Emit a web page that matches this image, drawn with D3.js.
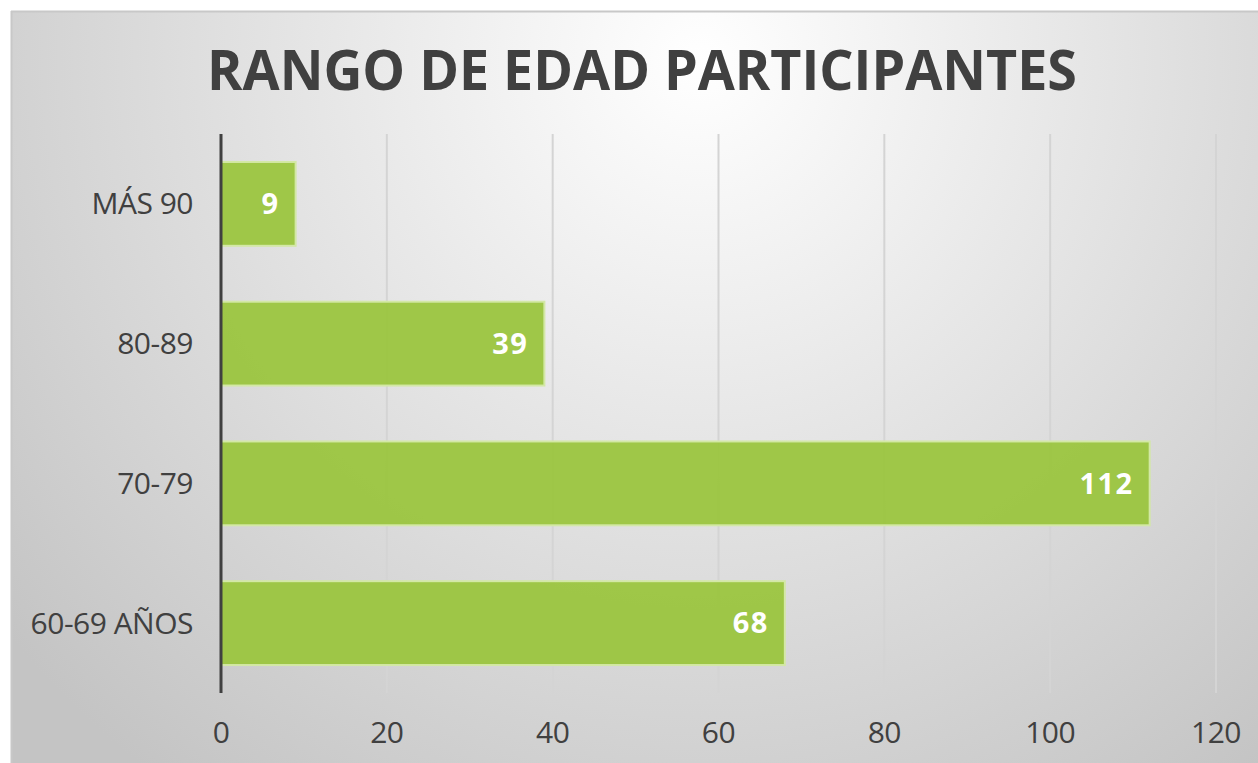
<!DOCTYPE html>
<html>
<head>
<meta charset="utf-8">
<script src="https://cdn.jsdelivr.net/npm/d3@7"></script>
<style>
  body { margin: 0; background: #fff; }
  svg { display: block; }
</style>
</head>
<body>
<svg id="chart" width="1258" height="763"></svg>
<script>
// data
const categories = ["MÁS 90", "80-89", "70-79", "60-69 AÑOS"]
const values = [9, 39, 112, 68]
const xTicks = [0, 20, 40, 60, 80, 100, 120]
const title = "RANGO DE EDAD PARTICIPANTES"

const width = 1258
const height = 763
const margin = { top: 134, right: 42, bottom: 70, left: 221 }
const font = "'Open Sans', 'Noto Sans', sans-serif"

const svg = d3.select("#chart")

// background panel with radial gradient
const defs = svg.append("defs")
const grad = defs.append("radialGradient")
  .attr("id", "bg")
  .attr("gradientUnits", "userSpaceOnUse")
  .attr("cx", 700).attr("cy", 60).attr("r", 900)
grad.append("stop").attr("offset", "0%").attr("stop-color", "#ffffff")
grad.append("stop").attr("offset", "100%").attr("stop-color", "#c4c4c4")

svg.append("rect")
  .attr("x", 11).attr("y", 11)
  .attr("width", width - 11).attr("height", height - 11)
  .attr("fill", "url(#bg)")
svg.append("line")
  .attr("x1", 11).attr("x2", width).attr("y1", 11.5).attr("y2", 11.5)
  .attr("stroke", "#c8c8c8").attr("stroke-width", 2)
svg.append("line")
  .attr("x1", 11.5).attr("x2", 11.5).attr("y1", 11).attr("y2", height)
  .attr("stroke", "#c8c8c8").attr("stroke-width", 2)

// title
svg.append("text")
  .attr("x", 642).attr("y", 90)
  .attr("text-anchor", "middle")
  .attr("textLength", 870)
  .attr("lengthAdjust", "spacingAndGlyphs")
  .style("font-family", font)
  .style("font-weight", "700")
  .style("font-size", "56px")
  .attr("fill", "#404040")
  .text(title)

const xScale = d3.scaleLinear()
  .domain([0, 120])
  .range([margin.left, 1216])

const yScale = d3.scaleBand()
  .domain(categories)
  .range([margin.top, height - margin.bottom])
  .paddingInner(0.4)
  .paddingOuter(0.2)

// gridlines
svg.append("g")
  .selectAll("line")
  .data(xTicks.slice(1))
  .join("line")
  .attr("x1", d => xScale(d)).attr("x2", d => xScale(d))
  .attr("y1", margin.top).attr("y2", height - margin.bottom)
  .attr("stroke", "#d4d4d4")
  .attr("stroke-width", 2)

// bars
svg.append("g")
  .selectAll("rect")
  .data(values)
  .join("rect")
  .attr("x", xScale(0))
  .attr("y", (d, i) => yScale(categories[i]))
  .attr("width", d => xScale(d) - xScale(0))
  .attr("height", yScale.bandwidth())
  .attr("fill", "#9bc53f")
  .attr("fill-opacity", 0.95)
  .attr("stroke", "#d3e8a6")
  .attr("stroke-width", 2)

// value labels
svg.append("g")
  .selectAll("text")
  .data(values)
  .join("text")
  .attr("x", d => xScale(d) - 16)
  .attr("y", (d, i) => yScale(categories[i]) + yScale.bandwidth() / 2)
  .attr("dy", "0.35em")
  .attr("text-anchor", "end")
  .style("font-family", font)
  .style("font-weight", "700")
  .style("font-size", "29px")
  .style("letter-spacing", "1.5px")
  .attr("fill", "#ffffff")
  .text(d => d)

// y axis line
svg.append("line")
  .attr("x1", xScale(0)).attr("x2", xScale(0))
  .attr("y1", margin.top).attr("y2", height - margin.bottom)
  .attr("stroke", "#404040")
  .attr("stroke-width", 3)

// category labels
svg.append("g")
  .selectAll("text")
  .data(categories)
  .join("text")
  .attr("x", 193)
  .attr("y", d => yScale(d) + yScale.bandwidth() / 2)
  .attr("dy", "0.35em")
  .attr("text-anchor", "end")
  .style("font-family", font)
  .style("font-size", "30px")
  .style("letter-spacing", "-0.5px")
  .attr("fill", "#404040")
  .text(d => d)

// x tick labels
svg.append("g")
  .selectAll("text")
  .data(xTicks)
  .join("text")
  .attr("x", d => xScale(d))
  .attr("y", 732)
  .attr("dy", "0.35em")
  .attr("text-anchor", "middle")
  .style("font-family", font)
  .style("font-size", "30px")
  .style("letter-spacing", "-0.5px")
  .attr("fill", "#404040")
  .text(d => d)
</script>
</body>
</html>
